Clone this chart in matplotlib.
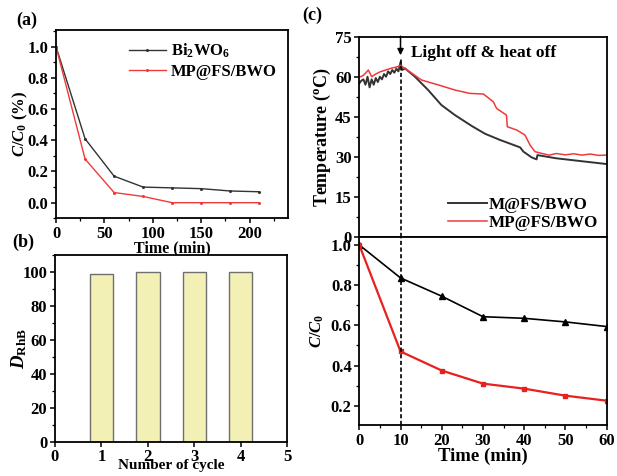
import matplotlib
matplotlib.use("Agg")
import matplotlib.pyplot as plt
from matplotlib.ticker import MultipleLocator

plt.rcParams['font.family'] = ['Liberation Serif', 'DejaVu Serif']
plt.rcParams['font.weight'] = 'bold'
plt.rcParams['font.size'] = 12
plt.rcParams['axes.labelweight'] = 'bold'
plt.rcParams['mathtext.fontset'] = 'custom'
plt.rcParams['mathtext.rm'] = 'Liberation Serif:bold'
plt.rcParams['mathtext.it'] = 'Liberation Serif:bold:italic'
plt.rcParams['mathtext.bf'] = 'Liberation Serif:bold'

# ---- panel (a) data ----
a_time = [0, 30, 60, 90, 120, 150, 180, 210]
a_bwo = [1.0, 0.41, 0.17, 0.10, 0.095, 0.09, 0.075, 0.07]
a_mp = [1.0, 0.28, 0.065, 0.04, 0.0, 0.0, 0.0, 0.0]

# ---- panel (b) data ----
b_cycle = [1, 2, 3, 4]
b_drhb = [99, 100, 100, 100]

# ---- panel (c) temperature data ----
t_m = [0, 0.5, 1, 1.5, 2, 2.5, 3, 3.5, 4, 4.5, 5, 5.5, 6, 6.5, 7, 7.5, 8, 8.5, 9, 9.5, 10,
       10.4, 11.1, 13.5, 16.7, 19.9, 23.2, 27.3, 30.5, 34.1, 39.0, 39.8, 41.8, 43.0, 43.2, 47.8, 54, 60]
temp_m = [57.5, 58.5, 59.0, 57.0, 60.0, 56.0, 59.0, 57.0, 59.5, 58.0, 60.0, 59.0, 61.0, 60.0, 62.0, 61.0, 62.5,
          61.5, 63.0, 62.0, 65.5, 62.5, 63.1, 60.0, 55.0, 49.4, 45.6, 41.5, 38.6, 36.3, 33.5, 31.9, 29.75, 29.0,
          30.6, 29.4, 28.3, 27.25]
t_mp = [0, 1, 2.2, 3.0, 4, 5, 6, 7, 8, 9, 9.9, 11.1, 15.1, 19.2, 23.2, 26.8, 30.1, 32.5, 33.3, 35.7, 35.9,
        38.2, 40.2, 41.4, 42.6, 44.2, 46, 47.8, 50, 52, 54, 56, 58, 60]
temp_mp = [59.8, 60.5, 62.5, 60.0, 61.0, 61.8, 62.3, 62.8, 63.3, 63.6, 64.2, 63.1, 58.75, 56.9, 55.0, 53.75,
           53.5, 50.6, 48.1, 45.6, 41.25, 40.0, 38.1, 34.4, 31.9, 31.25, 30.6, 31.2, 30.7, 31.1, 30.6, 31.0,
           30.5, 30.6]

# ---- panel (c) C/C0 data ----
c_time = [0, 10, 20, 30, 40, 50, 60]
c_m = [1.0, 0.836, 0.745, 0.643, 0.635, 0.617, 0.594]
c_mp = [1.0, 0.47, 0.375, 0.31, 0.285, 0.25, 0.225]

BLACK = '#333333'
RED = '#f03a3a'

fig = plt.figure(figsize=(6.17, 4.76), dpi=100)


def style(ax, size=12):
    for s in ax.spines.values():
        s.set_linewidth(1.3)
    ax.tick_params(which='major', direction='out', length=3.5, width=1.1, labelsize=size, pad=2)
    ax.tick_params(which='minor', direction='out', length=2.2, width=0.9)


# (a)
axa = fig.add_axes([0.0908, 0.5414, 0.3765, 0.3956])
axa.plot(a_time, a_bwo, color=BLACK, lw=1.0, marker='o', ms=1.2, label='Bi$_\\mathregular{2}$WO$_\\mathregular{6}$')
axa.plot(a_time, a_mp, color=RED, lw=1.0, marker='o', ms=1.2, label='MP@FS/BWO')
axa.set_xlim(0, 240)
axa.set_ylim(-0.1, 1.107)
axa.xaxis.set_major_locator(MultipleLocator(50))
axa.xaxis.set_minor_locator(MultipleLocator(25))
axa.yaxis.set_major_locator(MultipleLocator(0.2))
axa.yaxis.set_minor_locator(MultipleLocator(0.1))
axa.set_xlabel('Time (min)', fontsize=11.5, labelpad=-1)
axa.set_ylabel('$\\mathit{C/C}_\\mathbf{0}$ (%)', fontsize=12)
axa.yaxis.set_label_coords(-0.11, 0.5)
axa.legend(loc='upper right', frameon=False, handlelength=2.2, handletextpad=0.3, fontsize=12,
           borderaxespad=0.3, labelspacing=0.25, bbox_to_anchor=(1.0, 1.0))
style(axa)
fig.text(0.027, 0.957, '(a)', fontsize=13, fontweight='bold', va='center')

# (b)
axb = fig.add_axes([0.0891, 0.0708, 0.3765, 0.3935])
axb.bar(b_cycle, b_drhb, width=0.5, color='#f3f0b5', edgecolor='#6f6f6f', linewidth=1.0)
axb.set_xlim(0, 5)
axb.set_ylim(0, 110)
axb.xaxis.set_major_locator(MultipleLocator(1))
axb.yaxis.set_major_locator(MultipleLocator(20))
axb.yaxis.set_minor_locator(MultipleLocator(10))
axb.set_xlabel('Number of cycle', fontsize=11)
axb.set_ylabel('$\\mathit{D}_\\mathbf{RhB}$', fontsize=13.5)
axb.yaxis.set_label_coords(-0.11, 0.5)
style(axb)
axb.tick_params(axis='x', which='major', pad=1)
axb.xaxis.set_label_coords(0.5, -0.088)
fig.text(0.02, 0.49, '(b)', fontsize=13, fontweight='bold', va='center')

# (c) top
axt = fig.add_axes([0.5823, 0.5027, 0.401, 0.4202])
axt.plot(t_m, temp_m, color=BLACK, lw=1.4, label='M@FS/BWO')
axt.plot(t_mp, temp_mp, color=RED, lw=1.1, label='MP@FS/BWO')
axt.set_xlim(0, 60)
axt.set_ylim(0, 75)
axt.yaxis.set_major_locator(MultipleLocator(15))
axt.yaxis.set_minor_locator(MultipleLocator(7.5))
axt.set_xticks([])
axt.set_ylabel('Temperature ($^\\mathbf{o}$C)', fontsize=13)
axt.yaxis.set_label_coords(-0.108, 0.5)
axt.vlines(10, 0, 67.5, colors='black', linestyles=(0, (2.5, 1.5)), lw=1.2)
axt.annotate('', xy=(10, 67.0), xytext=(10, 76.2), annotation_clip=False,
             arrowprops=dict(arrowstyle='-|>', color='black', lw=1.1, mutation_scale=9))
axt.text(12.5, 69.0, 'Light off & heat off', fontsize=12.5, fontweight='bold', va='center', ha='left')
axt.legend(loc='lower right', frameon=False, handlelength=2.3, handletextpad=0.1,
           borderaxespad=0.1, labelspacing=0.15, fontsize=12.3, bbox_to_anchor=(1.0, -0.015))
style(axt)
fig.text(0.49, 0.968, '(c)', fontsize=13, fontweight='bold', va='center')

# (c) bottom
axc = fig.add_axes([0.5823, 0.1071, 0.401, 0.3956])
axc.plot(c_time, c_m, color='black', lw=1.2, marker='^', ms=4)
axc.plot(c_time, c_mp, color='#e8201e', lw=1.6, marker='s', ms=3.5)
axc.axvline(10, color='black', ls=(0, (2.5, 1.5)), lw=1.2)
axc.set_xlim(0, 60)
axc.set_ylim(0.104, 1.041)
axc.xaxis.set_major_locator(MultipleLocator(10))
axc.xaxis.set_minor_locator(MultipleLocator(5))
axc.yaxis.set_major_locator(MultipleLocator(0.2))
axc.yaxis.set_minor_locator(MultipleLocator(0.1))
axc.set_xlabel('Time (min)', fontsize=13.5, labelpad=-1)
axc.set_ylabel('$\\mathit{C/C}_\\mathbf{0}$', fontsize=12)
axc.yaxis.set_label_coords(-0.133, 0.5)
style(axc)

fig.savefig('out.png', dpi=100)
